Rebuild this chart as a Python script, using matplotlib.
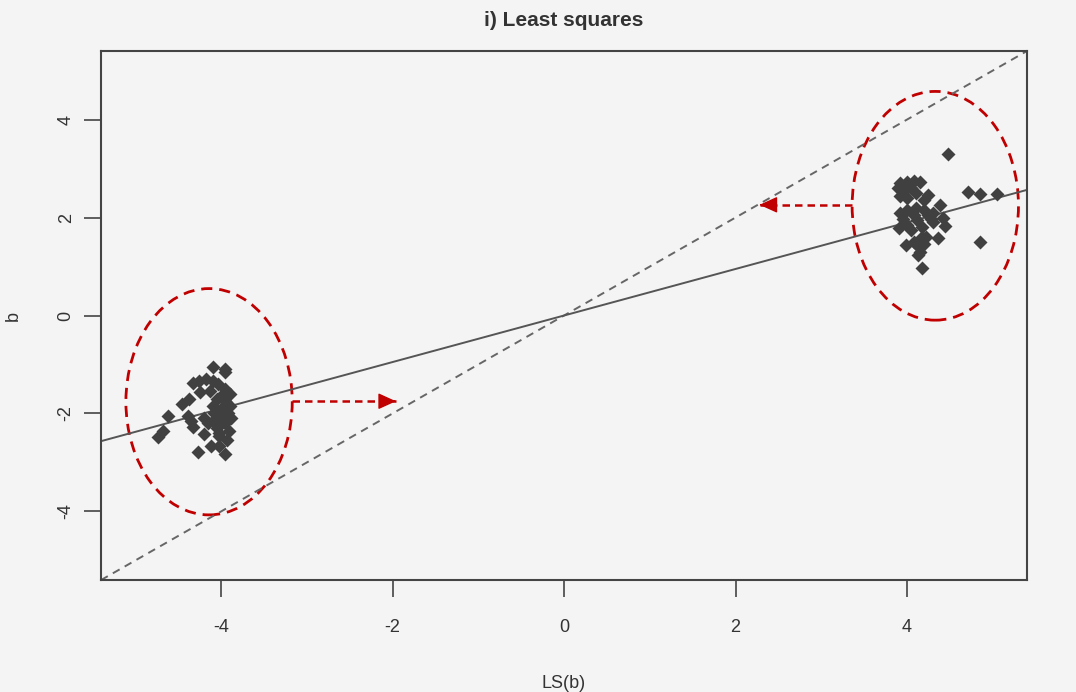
import matplotlib.pyplot as plt
import matplotlib.patches as patches
import numpy as np

# puntos del grupo izquierdo (LS(b), b)
izq_x = [-4.10, -3.96, -3.96, -4.33, -4.26, -4.18, -4.10, -4.04, -3.96, -4.24,
         -4.37, -4.45, -4.62, -4.39, -4.35, -4.33, -4.68, -4.74, -4.20, -3.91,
         -4.27, -3.96, -4.12, -4.02, -4.02, -4.05, -3.95, -3.90, -4.00, -4.08,
         -3.92, -4.00, -4.10, -3.95, -3.90, -4.05, -4.15, -4.20, -3.98, -4.10,
         -3.88, -4.02, -4.13, -3.93, -4.06]
izq_y = [-1.06, -1.10, -1.16, -1.37, -1.34, -1.30, -1.34, -1.40, -1.50, -1.57,
         -1.71, -1.81, -2.05, -2.05, -2.15, -2.28, -2.35, -2.49, -2.42, -2.35,
         -2.79, -2.83, -2.66, -2.66, -2.45, -1.70, -1.75, -1.85, -1.90, -2.00,
         -2.00, -2.10, -2.15, -2.20, -1.60, -2.30, -2.20, -2.10, -1.60, -1.85,
         -2.10, -2.40, -1.55, -2.55, -1.95]

# puntos del grupo derecho
der_x = [3.92, 4.00, 4.08, 4.15, 3.90, 3.97, 4.05, 3.92, 4.00, 4.10,
         4.24, 4.20, 4.38, 4.48, 4.71, 4.85, 5.05, 4.85, 3.92, 4.00,
         4.08, 3.95, 4.12, 4.20, 4.28, 4.30, 4.42, 4.44, 4.36, 4.17,
         4.22, 4.13, 4.13, 3.99, 4.17, 3.91, 4.00, 4.05, 4.18, 4.25,
         4.10, 4.30, 4.15, 4.20, 4.08]
der_y = [2.70, 2.72, 2.75, 2.72, 2.60, 2.55, 2.60, 2.45, 2.40, 2.50,
         2.46, 2.36, 2.26, 3.29, 2.53, 2.49, 2.49, 1.51, 2.10, 2.15,
         2.05, 1.98, 1.95, 2.15, 1.98, 2.10, 1.99, 1.82, 1.58, 1.61,
         1.61, 1.41, 1.24, 1.44, 0.97, 1.78, 1.85, 1.75, 1.80, 2.05,
         2.20, 1.90, 1.30, 1.45, 1.50]

pendiente_ls = 0.475
ticks = [-4, -2, 0, 2, 4]
limite = 5.4

# elipses (centro, ancho, alto) y flechas (inicio, fin)
elipses = [((-4.14, -1.76), 1.94, 4.62), ((4.33, 2.24), 1.94, 4.67)]
flechas = [((-3.17, -1.75), (-1.96, -1.75)), ((3.36, 2.26), (2.28, 2.26))]

fondo = '#f4f4f4'
rojo = '#c00000'

plt.rcParams['font.family'] = ['Liberation Sans', 'DejaVu Sans']

fig = plt.figure(figsize=(10.76, 6.92), dpi=100, facecolor=fondo)
ax = fig.add_axes([0.0939, 0.1618, 0.8606, 0.7645])
ax.set_facecolor(fondo)

xs = np.array([-limite, limite])
ax.plot(xs, xs, color='#666666', lw=1.4, ls=(0, (4, 3)))
ax.plot(xs, pendiente_ls * xs, color='#555555', lw=1.4)

ax.plot(izq_x, izq_y, 'D', color='#404040', ms=7.5, mec='none')
ax.plot(der_x, der_y, 'D', color='#404040', ms=7.5, mec='none')

for centro, ancho, alto in elipses:
    ax.add_patch(patches.Ellipse(centro, ancho, alto, fill=False,
                                 edgecolor=rojo, lw=2, ls=(0, (4, 2.5))))

for inicio, fin in flechas:
    # cuerpo discontinuo
    ax.plot([inicio[0], fin[0]], [inicio[1], fin[1]], color=rojo, lw=1.8,
            ls=(0, (3, 2)))
    # punta solida
    casi = (fin[0] - 0.02 * (fin[0] - inicio[0]), fin[1])
    ax.annotate('', xy=fin, xytext=casi,
                arrowprops=dict(arrowstyle='-|>,head_length=1.1,head_width=0.5',
                                color=rojo, lw=1.0, shrinkA=0, shrinkB=0))

ax.set_xlim(-limite, limite)
ax.set_ylim(-limite, limite)
ax.set_xticks(ticks)
ax.set_yticks(ticks)
ax.set_xticklabels([str(t) for t in ticks], fontsize=13, color='#333333')
ax.set_yticklabels([str(t) for t in ticks], fontsize=13, color='#333333',
                   rotation=90, va='center')
ax.tick_params(length=12, width=1.2, color='#444444')
ax.tick_params(axis='x', pad=16)
ax.tick_params(axis='y', pad=7)
for lado in ax.spines.values():
    lado.set_color('#444444')
    lado.set_linewidth(1.5)

ax.set_xlabel('LS(b)', fontsize=13, color='#333333', labelpad=28)
ax.set_ylabel('b', fontsize=13, color='#333333', labelpad=26)
ax.set_title('i) Least squares', fontsize=15, fontweight='bold',
             color='#333333', pad=18)

fig.savefig('out.png', dpi=100, facecolor=fondo)
